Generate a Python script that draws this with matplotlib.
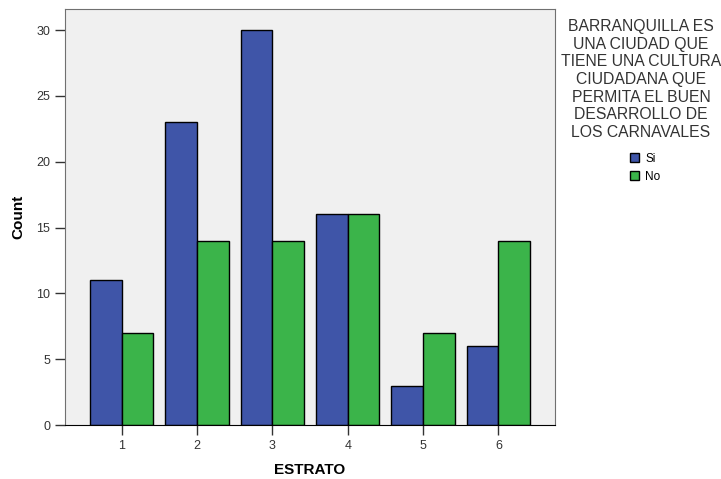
import numpy as np
import matplotlib
matplotlib.use("Agg")
import matplotlib.pyplot as plt
from matplotlib.patches import Patch

plt.rcParams['font.family'] = ['Liberation Sans', 'DejaVu Sans']

estrato = [1, 2, 3, 4, 5, 6]
si = [11, 23, 30, 16, 3, 6]
no = [7, 14, 14, 16, 7, 14]
legend_title = ("BARRANQUILLA ES\nUNA CIUDAD QUE\nTIENE UNA CULTURA\n"
                "CIUDADANA QUE\nPERMITA EL BUEN\nDESARROLLO DE\nLOS CARNAVALES")

blue = '#3f55a8'
green = '#3bb44a'

fig = plt.figure(figsize=(7.21, 4.79), dpi=100)
ax = fig.add_axes([65 / 721, 54 / 479, 490 / 721, 416 / 479])
ax.set_facecolor('#f0f0f0')

x = np.array(estrato)
w = 0.42
ax.bar(x - w / 2, si, width=w, color=blue, edgecolor='black', linewidth=1.0)
ax.bar(x + w / 2, no, width=w, color=green, edgecolor='black', linewidth=1.0)

ax.set_xlim(0.25, 6.75)
ax.set_ylim(0, 31.6)
ax.set_xticks(x)
ax.set_yticks(range(0, 31, 5))
ax.tick_params(direction='out', length=7, width=1, labelsize=9, colors='#333333')
for s in ax.spines.values():
    s.set_color('#707070')
ax.spines['bottom'].set_color('black')

ax.set_xlabel('ESTRATO', fontsize=11, fontweight='bold', labelpad=8)
ax.set_ylabel('Count', fontsize=11, fontweight='bold', labelpad=8)

fig.text(641 / 721, 1 - 19 / 479, legend_title, ha='center', va='top',
         multialignment='center', fontsize=11.3, color='#333333', linespacing=1.22)
handles = [Patch(facecolor=blue, edgecolor='black', label='Si'),
           Patch(facecolor=green, edgecolor='black', label='No')]
fig.legend(handles=handles, loc='upper left', bbox_to_anchor=(624 / 721, 1 - 147 / 479),
           frameon=False, fontsize=8.5, handlelength=0.8, handleheight=0.8,
           handletextpad=0.5, labelspacing=0.5, borderpad=0)

fig.savefig('out.png', dpi=100)
